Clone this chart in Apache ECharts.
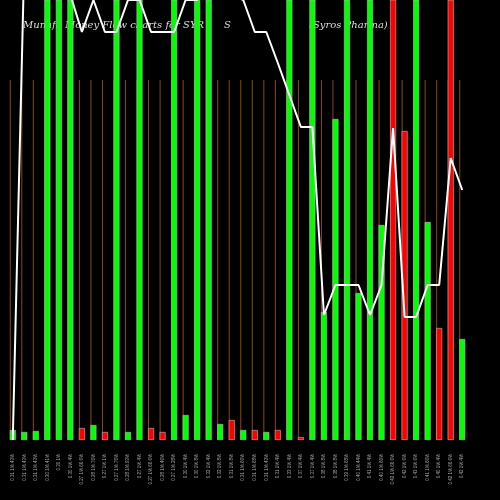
<!DOCTYPE html>
<html>
<head>
<meta charset="utf-8">
<script src="https://cdn.jsdelivr.net/npm/echarts@6/dist/echarts.min.js"></script>
<style>html,body{margin:0;padding:0;background:#000;}#main{width:500px;height:500px;}</style>
</head>
<body>
<div id="main"></div>
<script>
// bar heights (money flow), 500 = runs off the top
const flowValues = [10,8,9,500,500,500,12,15,8,500,8,500,12,8,500,25,500,500,16,20,10,10,8,10,500,3,500,128,321,500,147,500,215,500,309,500,218,112,500,101];
const flowUp = [1,1,1,1,1,1,0,1,0,1,1,1,0,0,1,1,1,1,1,0,1,0,1,0,1,0,1,1,1,1,1,1,1,0,0,1,1,0,0,1];
const priceLine = [0,480,480,480,480,445,408,440,408,408,440,440,408,408,408,440,440,480,480,445,440,408,408,377,345,313,313,125,155,155,155,125,155,312,123,123,155,155,282,250];
const guideValues = flowValues.map(() => 360);
const labels = ['0.31 1%.43%','0.31 1%.43%','0.31 1%.43%','0.30 1%.41%','0.30 1%','0.30 1%.4%','0.27 1%.66.6%','0.28 1%.76%','0.27 1%.1%','0.27 1%.76%','0.28 1%.93%','0.27 1%.4%','0.27 1%.66.6%','0.28 1%.46%','0.27 1%.28%','0.30 1%.4%','0.30 1%.8%','0.32 1%.4%','0.32 1%.8%','0.31 1%.8%','0.31 1%.66%','0.31 1%.68%','0.31 1%.43%','0.31 1%.4%','0.33 1%.4%','0.37 1%.4%','0.37 1%.4%','0.38 1%.8%','0.38 1%.8%','0.39 1%.68%','0.40 1%.44%','0.41 1%.4%','0.40 1%.66%','0.42 1%.66.6%','0.42 1%.6%','0.43 1%.6%','0.41 1%.66%','0.40 1%.4%','0.42 1%.66.6%','0.42 1%.4%'];

const titleStyle = { color: '#ddd', fontSize: 10, fontStyle: 'italic', fontWeight: 'normal', fontFamily: 'DejaVu Serif' };
const chart = echarts.init(document.getElementById('main'));
chart.setOption({
    backgroundColor: '#000',
    animation: false,
    title: [
        { text: 'Munafa Money Flow charts for SYR', left: 18, top: 15, textStyle: titleStyle },
        { text: 'S', left: 219, top: 15, textStyle: titleStyle },
        { text: '(Syros Pharma)', left: 304, top: 15, textStyle: titleStyle }
    ],
    grid: { left: 7, right: 32, top: 0, bottom: 60 },
    xAxis: {
        type: 'category',
        data: labels,
        axisLine: { show: false },
        axisTick: { show: false },
        axisLabel: { rotate: 90, color: '#aaa', fontSize: 4.5, interval: 0, margin: 14 }
    },
    yAxis: { type: 'value', min: 0, max: 440, show: false },
    series: [
        {
            type: 'bar', data: guideValues, barWidth: 1, barGap: '-100%', z: 1, zlevel: 1, silent: true,
            itemStyle: { color: '#8a4a10' }
        },
        {
            type: 'bar', barWidth: 6, z: 2, zlevel: 1,
            data: flowValues.map((v, i) => ({
                value: v,
                itemStyle: { color: flowUp[i] ? '#00ff00' : '#ff0000', borderColor: '#bbb', borderWidth: 0.6 }
            }))
        },
        {
            type: 'line', data: priceLine, symbol: 'none', z: 3, zlevel: 1,
            lineStyle: { color: '#fff', width: 2 }
        }
    ]
});
</script>
</body>
</html>
